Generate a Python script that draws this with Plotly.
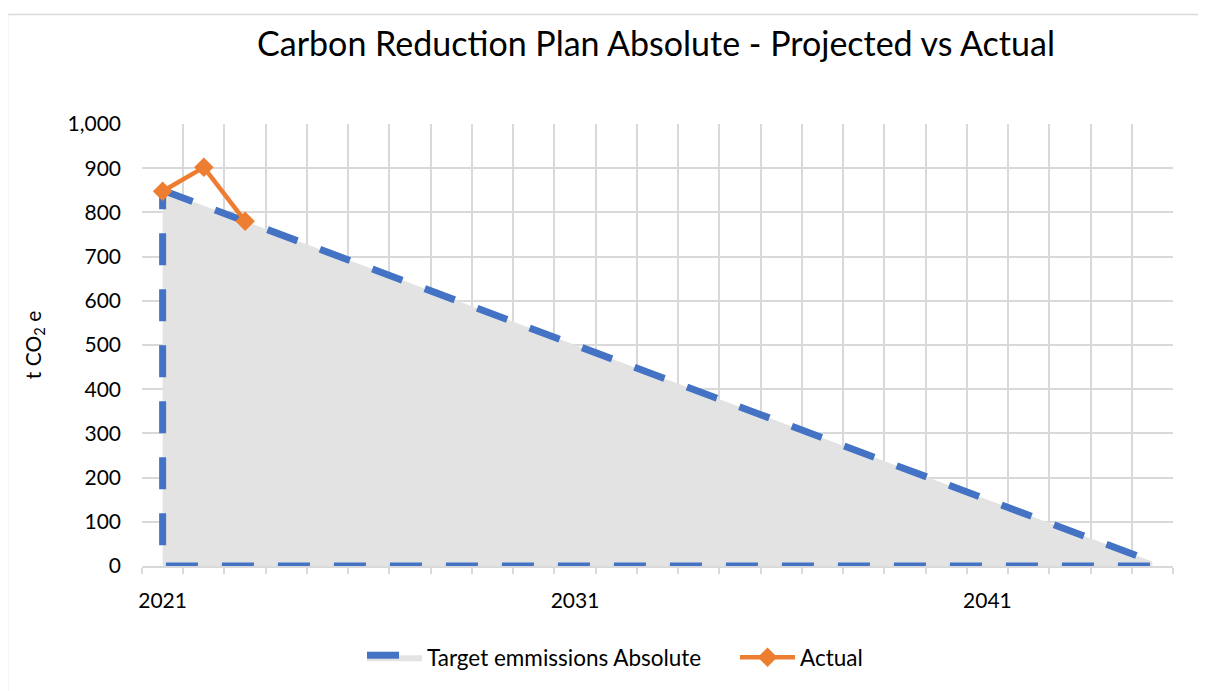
import plotly.graph_objects as go

years = list(range(2021, 2046))
target = [850, 815, 780, 745, 710, 675, 640, 605, 570, 535, 500, 465, 430,
          395, 360, 325, 290, 255, 220, 185, 150, 115, 80, 45, 10]
actual_years = [2021, 2022, 2023]
actual = [848, 902, 780]
tick_years = [2021, 2031, 2041]

OFF = 8  # page offset of the figure inside the browser window
W, H = 1206 - OFF, 691 - OFF
ml, mt = 142 - OFF, 124 - OFF
mr = W - (1173 - OFF)
mb = H - (568 - OFF)
pw, ph = W - ml - mr, H - mt - mb

def px_x(p):  # reference page pixel -> paper x
    return (p - OFF - ml) / pw

def px_y(p):  # reference page pixel -> paper y
    return (H - mb - (p - OFF)) / ph

BLUE = "#4472C4"
ORANGE = "#ED7D31"
GRID = "#d9d9d9"
FONT = "Lato"

area_x = years + [years[-1], years[0], years[0]]
area_y = target + [0, 0, target[0]]

fig = go.Figure()
fig.add_trace(go.Scatter(
    x=area_x, y=area_y, mode="lines", fill="toself",
    fillcolor="#e3e3e3",
    line=dict(color=BLUE, width=7, dash="32px,24px"),
    name="Target emmissions Absolute", legend="legend",
))
fig.add_trace(go.Scatter(
    x=actual_years, y=actual, mode="lines+markers",
    line=dict(color=ORANGE, width=4.5),
    marker=dict(symbol="diamond", size=15, color=ORANGE),
    name="Actual", legend="legend2",
))

legend_common = dict(orientation="h", xanchor="left", yanchor="middle",
                     y=px_y(660), font=dict(family=FONT, size=22.5),
                     itemwidth=55, bgcolor="rgba(0,0,0,0)")

fig.update_layout(
    width=W, height=H,
    margin=dict(l=ml, r=mr, t=mt, b=mb),
    paper_bgcolor="white", plot_bgcolor="white",
    font=dict(family=FONT, size=21, color="#000000"),
    title=dict(text="Carbon Reduction Plan Absolute - Projected vs Actual",
               x=px_x(656), xanchor="center", xref="paper",
               y=1 - (44 - OFF) / H, yanchor="middle",
               font=dict(family=FONT, size=34, color="#000000")),
    showlegend=True,
    legend=dict(x=px_x(362), **legend_common),
    legend2=dict(x=px_x(735), **legend_common),
    shapes=[dict(type="rect", xref="paper", yref="paper",
                 x0=px_x(7.5), x1=px_x(1240), y0=px_y(14), y1=px_y(720),
                 line=dict(color=GRID, width=1.5), layer="below")],
)

fig.update_xaxes(
    range=[2020.5, 2045.5], tickvals=tick_years, ticktext=[str(t) for t in tick_years],
    showgrid=False, ticks="", showline=True, linecolor=GRID, linewidth=1.5,
    ticklabelstandoff=15, tickfont=dict(size=21), zeroline=False,
    minor=dict(tick0=2020.5, dtick=1, showgrid=True, gridcolor=GRID, gridwidth=1.5,
               ticks="outside", ticklen=6, tickcolor=GRID, tickwidth=1.5),
)
fig.update_yaxes(
    range=[0, 1000], dtick=100, tickformat=",d", showgrid=True, gridcolor=GRID,
    gridwidth=1.5, zeroline=False, showline=False, ticks="",
    ticklabelstandoff=20, tickfont=dict(size=21),
    title=dict(text="t CO<sub>2</sub> e", standoff=20, font=dict(size=21)),
)

fig.write_html("out.html")
